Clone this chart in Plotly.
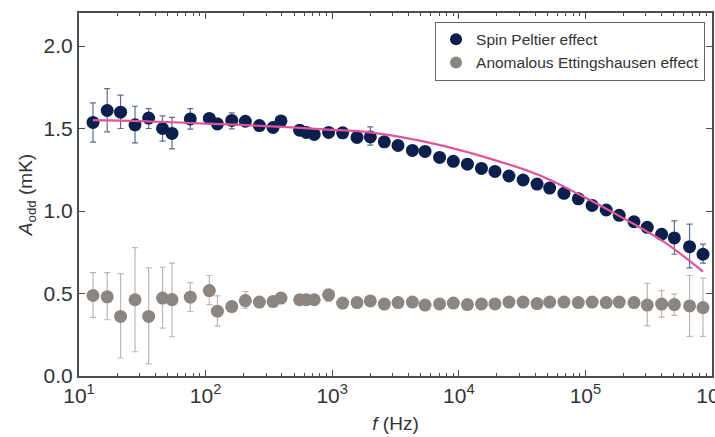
import plotly.graph_objects as go

# Frequency (Hz), shared by both data series
freq = [12.9, 16.7, 21.3, 27.7, 35.5, 45.7, 54.3, 75.7, 107, 124, 161, 206, 266, 341, 394,
        553, 624, 721, 937, 1209, 1570, 2000, 2580, 3310, 4300, 5410, 7050, 9050, 11700,
        15100, 19300, 24900, 32200, 41500, 52200, 67700, 87900, 113000, 146000, 185000,
        242000, 308000, 400000, 504000, 665000, 849000]

# Spin Peltier effect (mK)
sp_a = [1.537, 1.609, 1.599, 1.522, 1.563, 1.500, 1.470, 1.558, 1.561, 1.528, 1.549, 1.544,
        1.518, 1.506, 1.546, 1.490, 1.476, 1.464, 1.476, 1.474, 1.446, 1.449, 1.419, 1.397,
        1.367, 1.361, 1.325, 1.301, 1.284, 1.258, 1.240, 1.212, 1.188, 1.163, 1.139, 1.107,
        1.074, 1.034, 1.006, 0.974, 0.935, 0.901, 0.859, 0.837, 0.784, 0.738]
sp_err_plus = [0.118, 0.133, 0.103, 0.113, 0.058, 0.077, 0.097, 0.063, 0.02, 0.033, 0.046, 0.027,
               0.02, 0.02, 0.02, 0.02, 0.02, 0.02, 0.02, 0.02, 0.02, 0.061, 0.02, 0.02,
               0.02, 0.02, 0.02, 0.02, 0.02, 0.02, 0.02, 0.02, 0.02, 0.02, 0.02, 0.02,
               0.02, 0.02, 0.02, 0.02, 0.02, 0.02, 0.02, 0.103, 0.137, 0.061]
sp_err_minus = [0.120, 0.129, 0.099, 0.109, 0.063, 0.077, 0.093, 0.062, 0.02, 0.032, 0.051, 0.028,
                0.02, 0.02, 0.02, 0.02, 0.02, 0.02, 0.02, 0.02, 0.02, 0.050, 0.02, 0.02,
                0.02, 0.02, 0.02, 0.02, 0.02, 0.02, 0.02, 0.02, 0.02, 0.02, 0.02, 0.02,
                0.02, 0.02, 0.02, 0.02, 0.02, 0.02, 0.02, 0.099, 0.129, 0.054]

# Anomalous Ettingshausen effect (mK)
ae_a = [0.488, 0.480, 0.361, 0.462, 0.361, 0.472, 0.463, 0.478, 0.518, 0.393, 0.421, 0.457,
        0.448, 0.451, 0.472, 0.462, 0.462, 0.462, 0.492, 0.442, 0.445, 0.455, 0.436, 0.445,
        0.448, 0.430, 0.437, 0.442, 0.433, 0.437, 0.437, 0.448, 0.448, 0.439, 0.448, 0.448,
        0.445, 0.448, 0.445, 0.448, 0.445, 0.430, 0.436, 0.433, 0.425, 0.415]
ae_err_plus = [0.139, 0.147, 0.260, 0.316, 0.294, 0.187, 0.221, 0.088, 0.091, 0.093, 0.022, 0.055,
               0.02, 0.02, 0.02, 0.02, 0.02, 0.02, 0.03, 0.02, 0.02, 0.02, 0.02, 0.02,
               0.02, 0.02, 0.02, 0.02, 0.02, 0.02, 0.02, 0.02, 0.02, 0.02, 0.02, 0.02,
               0.02, 0.02, 0.02, 0.02, 0.02, 0.132, 0.082, 0.063, 0.184, 0.178]
ae_err_minus = [0.133, 0.139, 0.252, 0.315, 0.288, 0.182, 0.225, 0.087, 0.085, 0.091, 0.030, 0.046,
                0.02, 0.02, 0.02, 0.02, 0.02, 0.02, 0.04, 0.02, 0.02, 0.02, 0.02, 0.02,
                0.02, 0.02, 0.02, 0.02, 0.02, 0.02, 0.02, 0.02, 0.02, 0.02, 0.02, 0.02,
                0.02, 0.02, 0.02, 0.02, 0.02, 0.126, 0.079, 0.066, 0.185, 0.175]

# Fit curve
fit_f = [12.9, 30, 100, 300, 1000, 2000, 7130, 21300, 36700, 52800, 85700, 189000, 415000, 849000]
fit_a = [1.551, 1.545, 1.530, 1.515, 1.492, 1.476, 1.399, 1.298, 1.238, 1.188, 1.107, 0.966, 0.814, 0.633]

x_tickvals = [10, 100, 1000, 10000, 100000, 1000000]
x_ticktext = ["10<sup>1</sup>", "10<sup>2</sup>", "10<sup>3</sup>", "10<sup>4</sup>",
              "10<sup>5</sup>", "10<sup>6</sup>"]
y_tickvals = [0.0, 0.5, 1.0, 1.5, 2.0]

FONT = "Liberation Sans, Arial, sans-serif"
AX = "#4d4d4d"

fig = go.Figure()
fig.add_trace(go.Scatter(
    x=freq, y=sp_a, mode="markers", name="Spin Peltier effect",
    marker=dict(color="#0b1f4f", size=13),
    error_y=dict(type="data", symmetric=False, array=sp_err_plus, arrayminus=sp_err_minus,
                 color="#5b6d96", thickness=1.2, width=3),
))
fig.add_trace(go.Scatter(
    x=freq, y=ae_a, mode="markers", name="Anomalous Ettingshausen effect",
    marker=dict(color="#8c8683", size=13),
    error_y=dict(type="data", symmetric=False, array=ae_err_plus, arrayminus=ae_err_minus,
                 color="#b8b8b8", thickness=1.2, width=3),
))
fig.add_trace(go.Scatter(
    x=fit_f, y=fit_a, mode="lines", showlegend=False,
    line=dict(color="#e0559a", width=2.2, shape="spline"),
))

fig.update_layout(
    width=715, height=437,
    margin=dict(l=79, r=3, t=13, b=61),
    paper_bgcolor="white", plot_bgcolor="white",
    font=dict(family=FONT, color="#333333"),
    legend=dict(x=0.989, y=0.976, xanchor="right", yanchor="top",
                bordercolor="#666666", borderwidth=1, bgcolor="white",
                font=dict(size=15.5, family=FONT, color="#333333"),
                tracegroupgap=0, itemsizing="constant"),
)
fig.update_xaxes(
    type="log", range=[1, 6], automargin=False, ticklabeloverflow="allow",
    tickmode="array", tickvals=x_tickvals, ticktext=x_ticktext,
    ticks="inside", ticklen=6, tickwidth=1.3, tickcolor=AX,
    minor=dict(ticks="inside", ticklen=3, tickwidth=1, tickcolor=AX, dtick="D1", showgrid=False),
    showline=True, linewidth=2, linecolor=AX, mirror="ticks",
    showgrid=False, zeroline=False,
    tickfont=dict(size=21, family=FONT, color="#333333"),
    title=dict(text="<i>f</i> (Hz)", font=dict(size=19, family=FONT, color="#333333"), standoff=10),
)
fig.update_yaxes(
    range=[0, 2.2], automargin=False,
    tickmode="array", tickvals=y_tickvals, tickformat=".1f",
    ticks="inside", ticklen=6, tickwidth=1.3, tickcolor=AX,
    showline=True, linewidth=2, linecolor=AX, mirror="ticks",
    showgrid=False, zeroline=False,
    tickfont=dict(size=21, family=FONT, color="#333333"),
    title=dict(text="<i>A</i><sub>odd</sub> (mK)", font=dict(size=19, family=FONT, color="#333333"), standoff=6),
)

fig.write_html("out.html", config={"displayModeBar": False},
               post_script="document.body.style.margin='0';document.body.style.padding='0';")
